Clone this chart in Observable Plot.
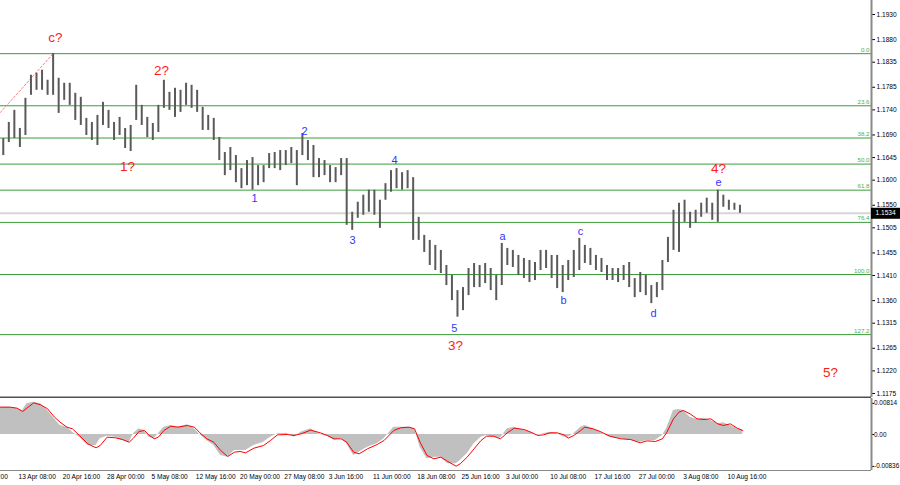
<!DOCTYPE html>
<html><head><meta charset="utf-8">
<script src="https://cdn.jsdelivr.net/npm/d3@7"></script>
<script src="https://cdn.jsdelivr.net/npm/@observablehq/plot@0.6"></script>
<style>
html,body{margin:0;padding:0;background:#fff;}
#chart svg{display:block;}
</style></head><body><div id="chart"></div>
<script>
// ---- price bars (each bar = 4 H4 candles) ----
const barStart = 2, barStep = 4;
const barHigh = [
1.1683,1.1715,1.1739,1.1703,1.1763,1.1809,1.1813,1.1819,1.1799,1.1852,
1.1803,1.1793,1.1793,1.1773,1.1765,1.1723,1.1715,1.1729,1.1755,1.1739,
1.1715,1.1725,1.1703,1.1709,1.1789,1.1749,1.1725,1.1713,1.1749,1.1799,
1.1775,1.1783,1.1779,1.1793,1.1789,1.1779,1.1745,1.1729,1.1723,1.1685,
1.1655,1.1665,1.1649,1.1623,1.1639,1.1645,1.1629,1.1629,1.1653,1.1655,
1.1659,1.1659,1.1665,1.1659,1.1693,1.1679,1.1669,1.1643,1.1639,1.1629,
1.1625,1.1643,1.1643,1.1536,1.1556,1.1570,1.1580,1.1580,1.1560,1.1593,
1.1619,1.1623,1.1615,1.1619,1.1605,1.1526,1.1490,1.1480,1.1470,1.1460,
1.1430,1.1410,1.1380,1.1386,1.1424,1.1434,1.1430,1.1434,1.1424,1.1410,
1.1474,1.1464,1.1460,1.1450,1.1444,1.1440,1.1436,1.1460,1.1460,1.1450,
1.1450,1.1430,1.1440,1.1460,1.1484,1.1470,1.1464,1.1450,1.1444,1.1430,
1.1424,1.1424,1.1430,1.1436,1.1404,1.1416,1.1410,1.1390,1.1396,1.1440,
1.1486,1.1540,1.1554,1.1560,1.1536,1.1540,1.1554,1.1564,1.1554,1.1580,
1.1570,1.1560,1.1554,1.1550];
const barLow = [
1.1649,1.1675,1.1683,1.1665,1.1689,1.1769,1.1779,1.1779,1.1769,1.1769,
1.1733,1.1759,1.1749,1.1719,1.1709,1.1689,1.1679,1.1669,1.1709,1.1703,
1.1679,1.1689,1.1663,1.1657,1.1719,1.1709,1.1685,1.1679,1.1695,1.1743,
1.1739,1.1725,1.1735,1.1749,1.1743,1.1735,1.1699,1.1699,1.1679,1.1639,
1.1609,1.1619,1.1595,1.1583,1.1589,1.1580,1.1589,1.1595,1.1623,1.1623,
1.1619,1.1629,1.1633,1.1589,1.1649,1.1639,1.1605,1.1605,1.1609,1.1595,
1.1595,1.1609,1.1510,1.1500,1.1524,1.1530,1.1536,1.1530,1.1504,1.1560,
1.1576,1.1583,1.1580,1.1583,1.1480,1.1480,1.1456,1.1430,1.1420,1.1414,
1.1390,1.1360,1.1327,1.1340,1.1370,1.1386,1.1386,1.1394,1.1380,1.1360,
1.1390,1.1430,1.1426,1.1410,1.1404,1.1396,1.1400,1.1420,1.1424,1.1404,
1.1384,1.1376,1.1400,1.1406,1.1420,1.1434,1.1430,1.1420,1.1416,1.1400,
1.1400,1.1396,1.1400,1.1386,1.1366,1.1376,1.1370,1.1354,1.1366,1.1380,
1.1436,1.1460,1.1456,1.1516,1.1504,1.1514,1.1526,1.1534,1.1520,1.1516,
1.1546,1.1540,1.1540,1.1534];
const lastPrice = 1.1534;

// ---- Fibonacci grid ----
const fibHigh = 1.1852, fibLow = 1.1412;
const fibLevels = [0, 23.6, 38.2, 50.0, 61.8, 76.4, 100.0, 127.2];
const fibText = ["0.0","23.6","38.2","50.0","61.8","76.4","100.0","127.2"];

// ---- dotted trend line ----
const trendBar = [0, 38];
const trendPrice = [1.1735, 1.1852];

// ---- wave labels ----
const redText  = ["c?","2?","1?","3?","4?","5?"];
const redBar   = [39.7,116.3,91.7,328.6,518.5,599.4];
const redPrice = [1.1884,1.1819,1.1627,1.1271,1.1623,1.1217];
const blueText  = ["1","2","3","4","5","a","b","c","d","e"];
const blueBar   = [183.4,219.5,254.2,284.5,327.8,362.5,406.6,418.8,471.6,518.5];
const bluePrice = [1.1564,1.1697,1.1480,1.1639,1.1305,1.1488,1.1360,1.1498,1.1335,1.1596];

// ---- price axis ticks ----
const yTicks = [1.1930,1.1880,1.1835,1.1785,1.1740,1.1690,1.1645,1.1600,1.1550,1.1505,1.1455,1.1410,1.1360,1.1315,1.1265,1.1220,1.1175];

// ---- oscillator (values in thousandths) ----
const oscBar = [0,7,12,16,19,24,29,34,39,43,
48,52,57,63,69,72,77,83,88,93,
96,100,104,107,111,114,118,123,128,135,
140,144,149,154,159,164,169,173,177,183,
190,195,200,207,212,217,224,231,236,241,
246,250,255,259,265,272,277,284,289,295,
299,303,308,313,318,323,329,332,337,342,
347,351,356,361,366,371,378,383,388,392,
397,402,407,410,414,419,422,428,433,440,
448,455,462,467,473,478,481,486,490,493,
498,503,508,513,518,522,527,532,536];
const oscSignal = [7.16,7.16,6.90,6.02,6.90,8.29,7.77,6.72,4.54,3.23,
1.92,1.48,-0.26,-2.44,-3.49,-2.88,-0.70,-0.87,-1.31,-2.01,
-0.96,0.79,1.05,-0.09,-1.13,-0.70,1.05,2.18,1.92,2.36,
1.92,0.44,-1.13,-2.01,-4.19,-5.76,-4.63,-4.45,-4.80,-3.58,
-2.88,-1.57,-0.09,0,-0.26,0.17,1.13,0.44,-0.26,-1.13,
-1.13,-2.01,-4.63,-5.06,-3.75,-2.62,-1.57,1.05,1.75,1.92,
1.48,-2.01,-5.50,-6.37,-5.94,-7.07,-8.29,-7.68,-5.94,-3.75,
-1.57,-0.44,-0.44,-1.13,0.44,1.66,1.31,0.61,-0.26,-0.09,
0.44,0.44,-0.09,-0.96,-0.26,1.05,1.92,1.48,0.79,-0.44,
-1.13,-1.31,-2.18,-1.66,-1.83,-1.13,0.44,4.10,5.85,6.29,
5.41,4.10,3.93,4.10,2.79,2.36,2.79,1.66,1.05];
const oscHist = [7.16,7.16,6.72,6.29,8.03,8.47,8.03,6.29,4.10,2.36,
1.92,0.61,-0.70,-2.88,-2.88,-1.13,-0.44,-0.70,-1.57,-2.01,
0.17,1.48,1.05,-0.70,-1.13,0.17,1.92,2.36,1.92,2.53,
1.48,-0.09,-1.57,-2.88,-5.50,-5.94,-4.19,-4.19,-4.19,-2.88,
-2.01,-0.70,0.17,0.35,-0.70,0.61,1.48,-0.09,-0.44,-1.57,
-0.96,-2.44,-5.50,-4.63,-3.32,-2.44,-1.13,1.92,1.92,1.92,
1.48,-3.32,-6.37,-5.94,-5.94,-7.68,-7.68,-6.81,-5.06,-2.44,
-0.70,-0.26,-0.70,-0.96,1.48,1.92,1.05,0.61,-0.26,0.17,
0.61,0.17,-0.70,-0.70,0.17,1.92,2.36,1.48,0.61,-0.70,
-1.13,-1.57,-2.01,-1.57,-1.57,-0.26,1.48,6.29,6.55,6.29,
4.54,3.93,4.28,3.67,2.79,3.06,2.36,1.48,1.05];
const oscTicks = [0.00814, 0, -0.00836];
const oscTickText = ["0.00814", "0.00", "-0.00836"];

// ---- time axis ----
const dateBar = [-19,13,45,77,109,141,173,205,237,269,301,333,365,397,429,461,493,525];
const dateText = ["6 Apr 00:00","13 Apr 08:00","20 Apr 16:00","28 Apr 00:00","5 May 08:00","12 May 16:00","20 May 00:00","27 May 08:00","3 Jun 16:00","11 Jun 00:00","18 Jun 08:00","25 Jun 16:00","3 Jul 00:00","10 Jul 08:00","17 Jul 16:00","27 Jul 00:00","3 Aug 08:00","10 Aug 16:00"];

// ---- build tables ----
const xMax = 629;
const priceDomain = [1.1167, 1.19579];
const oscDomain = [-0.00943, 0.00943];
const bars = barHigh.map((h, i) => ({bar: barStart + barStep * i, hi: h, lo: barLow[i]}));
const fib = fibLevels.map((l, i) => ({price: fibHigh - (fibHigh - fibLow) * l / 100, label: fibText[i]}));
const trend = trendBar.map((b, i) => ({bar: b, price: trendPrice[i]}));
const reds = redText.map((t, i) => ({t, bar: redBar[i], price: redPrice[i]}));
const blues = blueText.map((t, i) => ({t, bar: blueBar[i], price: bluePrice[i]}));
const signal = oscBar.map((b, i) => ({bar: b, v: oscSignal[i] / 1000}));
const hist = oscBar.map((b, i) => ({bar: b, v: oscHist[i] / 1000}));
const dates = dateBar.map((b, i) => ({bar: b, label: dateText[i]}));

const SANS = "'Liberation Sans',Arial,sans-serif";

const main = Plot.plot({
  width: 900, height: 398,
  marginLeft: 0, marginRight: 29, marginTop: 0, marginBottom: 1,
  style: {background: "#fff", fontFamily: SANS, fontSize: "6.6px", color: "#000"},
  x: {domain: [0, xMax], axis: null},
  y: {domain: priceDomain, axis: "right", ticks: yTicks, tickFormat: d => d.toFixed(4), tickSize: 3, tickPadding: 2, label: null},
  marks: [
    Plot.ruleY([lastPrice], {stroke: "#d6d6d6", strokeWidth: 2}),
    Plot.ruleY(fib, {y: "price", stroke: "#3c9c3c", strokeWidth: 1}),
    Plot.text(fib, {y: "price", text: "label", frameAnchor: "right", textAnchor: "end", dx: -2, dy: -4, fill: "#4caf50", fontSize: 6.2}),
    Plot.line(trend, {x: "bar", y: "price", stroke: "#ff7b7b", strokeDasharray: "2,2", strokeWidth: 1}),
    Plot.ruleX(bars, {x: "bar", y1: "lo", y2: "hi", stroke: "#5a5a5a", strokeWidth: 2}),
    Plot.text(reds, {x: "bar", y: "price", text: "t", fill: "#ff1a1a", fontSize: 13.5}),
    Plot.text(blues, {x: "bar", y: "price", text: "t", fill: "#3535ff", fontSize: 11}),
    Plot.ruleX([xMax], {stroke: "#8a8a8a", strokeWidth: 2}),
    Plot.ruleY([priceDomain[0]], {stroke: "#505050", strokeWidth: 2}),
    Plot.ruleY([lastPrice], {x1: xMax, x2: xMax + 22, stroke: "#000", strokeWidth: 11}),
    Plot.text([lastPrice], {y: d => d, text: d => d.toFixed(4), frameAnchor: "right", textAnchor: "start", dx: 4, fill: "#fff"})
  ]
});

const osc = Plot.plot({
  width: 900, height: 87,
  marginLeft: 0, marginRight: 29, marginTop: 0, marginBottom: 15,
  style: {background: "#fff", fontFamily: SANS, fontSize: "6.4px", color: "#000"},
  x: {domain: [0, xMax], axis: null},
  y: {domain: oscDomain, axis: "right", ticks: oscTicks, tickFormat: d => oscTickText[oscTicks.indexOf(d)], tickSize: 2, tickPadding: 0.5, label: null},
  marks: [
    Plot.areaY(hist, {x: "bar", y: "v", fill: "#c0c0c0"}),
    Plot.line(signal, {x: "bar", y: "v", stroke: "#ff0000", strokeWidth: 1}),
    Plot.ruleX([xMax], {stroke: "#8a8a8a", strokeWidth: 2}),
    Plot.ruleY([oscDomain[0]], {stroke: "#8a8a8a", strokeWidth: 1}),
    Plot.text(dates, {x: "bar", text: "label", frameAnchor: "bottom", textAnchor: "start", dy: 8, fontSize: 6.6})
  ]
});

const root = document.getElementById("chart");
root.appendChild(main);
root.appendChild(osc);
</script></body></html>
